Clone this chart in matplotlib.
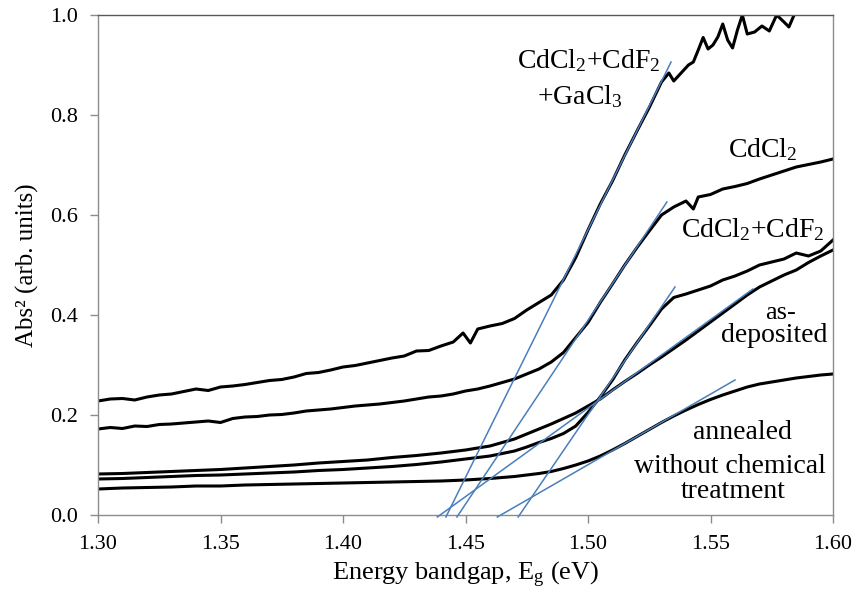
import matplotlib
matplotlib.use("Agg")
import matplotlib.pyplot as plt

plt.rcParams['font.family'] = ['Liberation Serif', 'DejaVu Serif']
plt.rcParams['mathtext.fontset'] = 'custom'
plt.rcParams['mathtext.rm'] = 'Liberation Serif'
plt.rcParams['mathtext.it'] = 'Liberation Serif:italic'

# Photon energy (eV) grids and Abs^2 values for each sample
x_gacl3 = [1.300, 1.305, 1.310, 1.315, 1.320, 1.325, 1.330, 1.335, 1.340, 1.345,
           1.350, 1.355, 1.360, 1.365, 1.370, 1.375, 1.380, 1.385, 1.390, 1.395,
           1.400, 1.405, 1.410, 1.415, 1.420, 1.425, 1.430, 1.435, 1.440, 1.445,
           1.449, 1.452, 1.455, 1.460, 1.465, 1.470, 1.475, 1.480, 1.485, 1.490,
           1.495, 1.500, 1.505, 1.510, 1.515, 1.520, 1.525, 1.530, 1.533, 1.535,
           1.538, 1.541, 1.543, 1.545, 1.547, 1.549, 1.551, 1.553, 1.555, 1.557,
           1.559, 1.561, 1.563, 1.565, 1.568, 1.571, 1.574, 1.577, 1.580, 1.582,
           1.585, 1.590, 1.600]
y_gacl3 = [0.228, 0.232, 0.233, 0.230, 0.236, 0.240, 0.242, 0.247, 0.252, 0.249,
           0.256, 0.258, 0.261, 0.265, 0.269, 0.271, 0.276, 0.283, 0.285, 0.290,
           0.296, 0.299, 0.304, 0.309, 0.314, 0.318, 0.328, 0.329, 0.338, 0.346,
           0.364, 0.344, 0.372, 0.378, 0.383, 0.393, 0.410, 0.425, 0.440, 0.470,
           0.515, 0.570, 0.622, 0.668, 0.720, 0.768, 0.815, 0.866, 0.884, 0.868,
           0.884, 0.900, 0.906, 0.930, 0.955, 0.932, 0.940, 0.956, 0.982, 0.950,
           0.934, 0.970, 1.000, 0.962, 0.966, 0.978, 0.968, 1.000, 0.986, 0.976,
           1.010, 1.030, 1.050]

x_cdcl2 = [1.300, 1.305, 1.310, 1.315, 1.320, 1.325, 1.330, 1.335, 1.340, 1.345,
           1.350, 1.355, 1.360, 1.365, 1.370, 1.375, 1.380, 1.385, 1.390, 1.395,
           1.400, 1.405, 1.410, 1.415, 1.420, 1.425, 1.430, 1.435, 1.440, 1.445,
           1.450, 1.455, 1.460, 1.465, 1.470, 1.475, 1.480, 1.485, 1.490, 1.495,
           1.500, 1.505, 1.510, 1.515, 1.520, 1.525, 1.530, 1.535, 1.540, 1.543,
           1.545, 1.550, 1.555, 1.560, 1.565, 1.570, 1.575, 1.580, 1.585, 1.590,
           1.595, 1.600]
y_cdcl2 = [0.172, 0.175, 0.173, 0.178, 0.177, 0.181, 0.182, 0.184, 0.186, 0.188,
           0.185, 0.193, 0.196, 0.197, 0.200, 0.201, 0.204, 0.208, 0.210, 0.212,
           0.215, 0.218, 0.220, 0.222, 0.225, 0.228, 0.232, 0.236, 0.238, 0.242,
           0.248, 0.252, 0.258, 0.265, 0.272, 0.282, 0.292, 0.306, 0.325, 0.355,
           0.385, 0.425, 0.462, 0.500, 0.535, 0.568, 0.600, 0.616, 0.628, 0.612,
           0.636, 0.641, 0.652, 0.657, 0.663, 0.672, 0.680, 0.688, 0.696, 0.701,
           0.706, 0.712]

x_cdf2 = [1.300, 1.310, 1.320, 1.330, 1.340, 1.350, 1.360, 1.370, 1.380, 1.390,
          1.400, 1.410, 1.420, 1.430, 1.440, 1.450, 1.460, 1.470, 1.475, 1.480,
          1.485, 1.490, 1.495, 1.500, 1.505, 1.510, 1.515, 1.520, 1.525, 1.530,
          1.535, 1.540, 1.545, 1.550, 1.555, 1.560, 1.565, 1.570, 1.575, 1.580,
          1.585, 1.590, 1.595, 1.600]
y_cdf2 = [0.072, 0.073, 0.075, 0.077, 0.079, 0.080, 0.082, 0.084, 0.086, 0.089,
          0.091, 0.094, 0.097, 0.101, 0.106, 0.112, 0.118, 0.128, 0.136, 0.145,
          0.153, 0.163, 0.178, 0.205, 0.236, 0.270, 0.310, 0.345, 0.378, 0.412,
          0.435, 0.442, 0.450, 0.458, 0.470, 0.478, 0.488, 0.500, 0.506, 0.512,
          0.524, 0.518, 0.528, 0.550]

x_asdep = [1.300, 1.310, 1.320, 1.330, 1.340, 1.350, 1.360, 1.370, 1.380, 1.390,
           1.400, 1.410, 1.420, 1.430, 1.440, 1.450, 1.460, 1.470, 1.475, 1.480,
           1.485, 1.490, 1.495, 1.500, 1.505, 1.510, 1.515, 1.520, 1.525, 1.530,
           1.535, 1.540, 1.545, 1.550, 1.555, 1.560, 1.565, 1.570, 1.575, 1.580,
           1.585, 1.590, 1.595, 1.600]
y_asdep = [0.082, 0.083, 0.085, 0.087, 0.089, 0.091, 0.094, 0.097, 0.100, 0.104,
           0.107, 0.110, 0.115, 0.119, 0.124, 0.130, 0.138, 0.152, 0.162, 0.172,
           0.182, 0.193, 0.204, 0.218, 0.232, 0.250, 0.267, 0.283, 0.300, 0.316,
           0.333, 0.350, 0.368, 0.386, 0.404, 0.422, 0.440, 0.456, 0.468, 0.480,
           0.490, 0.505, 0.518, 0.530]

x_anneal = [1.300, 1.310, 1.320, 1.330, 1.340, 1.350, 1.360, 1.370, 1.380, 1.390,
            1.400, 1.410, 1.420, 1.430, 1.440, 1.450, 1.460, 1.470, 1.480, 1.485,
            1.490, 1.495, 1.500, 1.505, 1.510, 1.515, 1.520, 1.525, 1.530, 1.535,
            1.540, 1.545, 1.550, 1.555, 1.560, 1.565, 1.570, 1.575, 1.580, 1.585,
            1.590, 1.595, 1.600]
y_anneal = [0.052, 0.054, 0.055, 0.056, 0.058, 0.058, 0.060, 0.061, 0.062, 0.063,
            0.064, 0.065, 0.066, 0.067, 0.068, 0.070, 0.073, 0.077, 0.083, 0.087,
            0.093, 0.100, 0.108, 0.118, 0.130, 0.143, 0.157, 0.171, 0.185, 0.198,
            0.210, 0.221, 0.231, 0.240, 0.248, 0.256, 0.262, 0.266, 0.270, 0.274,
            0.277, 0.280, 0.282]

# Linear fits to the absorption edges (x pairs, y pairs)
fit_x = [[1.4420, 1.5339], [1.4465, 1.5322], [1.4715, 1.5355],
         [1.4385, 1.5673], [1.4630, 1.5600]]
fit_y = [[-0.004, 0.906], [-0.004, 0.626], [-0.004, 0.456],
         [-0.004, 0.452], [-0.004, 0.270]]

x_ticks = [1.30, 1.35, 1.40, 1.45, 1.50, 1.55, 1.60]
y_ticks = [0.0, 0.2, 0.4, 0.6, 0.8, 1.0]

fig = plt.figure(figsize=(8.56, 5.94), dpi=100)
ax = fig.add_axes([98 / 856, 79 / 594, 735 / 856, 500 / 594])

for xs, ys in [(x_gacl3, y_gacl3), (x_cdcl2, y_cdcl2), (x_asdep, y_asdep),
               (x_cdf2, y_cdf2), (x_anneal, y_anneal)]:
    ax.plot(xs, ys, color='black', lw=2.2, solid_joinstyle='round', zorder=2)

for fx, fy in zip(fit_x, fit_y):
    ax.plot(fx, fy, color='#4a7ebb', lw=1.1, clip_on=False, zorder=3)

ax.set_xlim(1.30, 1.60)
ax.set_ylim(0.0, 1.0)
ax.set_xticks(x_ticks)
ax.set_xticklabels([f"{v:.2f}" for v in x_ticks])
ax.set_yticks(y_ticks)
ax.set_yticklabels([f"{v:.1f}" for v in y_ticks])

for s in ax.spines.values():
    s.set_color('#8c8c8c')
    s.set_linewidth(1.0)
ax.spines['top'].set_color('#5a5a5a')
ax.tick_params(direction='out', length=5.5, width=1.0, color='#8c8c8c',
               labelsize=16, labelcolor='black')
ax.tick_params(axis='x', pad=9)
ax.tick_params(axis='y', pad=9)

ax.set_xlabel(r"Energy bandgap, E$_\mathrm{g}$ (eV)", fontsize=19, labelpad=4)
ax.set_ylabel("Abs² (arb. units)", fontsize=18, labelpad=8)

fs = 20
ax.text(1.5002, 0.894, r"CdCl$_2$+CdF$_2$", fontsize=fs, ha='center', va='baseline')
ax.text(1.4967, 0.822, r"+GaCl$_3$", fontsize=fs, ha='center', va='baseline')
ax.text(1.5712, 0.716, r"CdCl$_2$", fontsize=fs, ha='center', va='baseline')
ax.text(1.5673, 0.556, r"CdCl$_2$+CdF$_2$", fontsize=fs, ha='center', va='baseline')
ax.text(1.5784, 0.392, "as-", fontsize=19, ha='center', va='baseline')
ax.text(1.5759, 0.346, "deposited", fontsize=fs, ha='center', va='baseline')
ax.text(1.5629, 0.152, "annealed", fontsize=fs, ha='center', va='baseline')
ax.text(1.5580, 0.084, "without chemical", fontsize=fs, ha='center', va='baseline')
ax.text(1.5592, 0.034, "treatment", fontsize=fs, ha='center', va='baseline')

fig.savefig("out.png", dpi=100)
